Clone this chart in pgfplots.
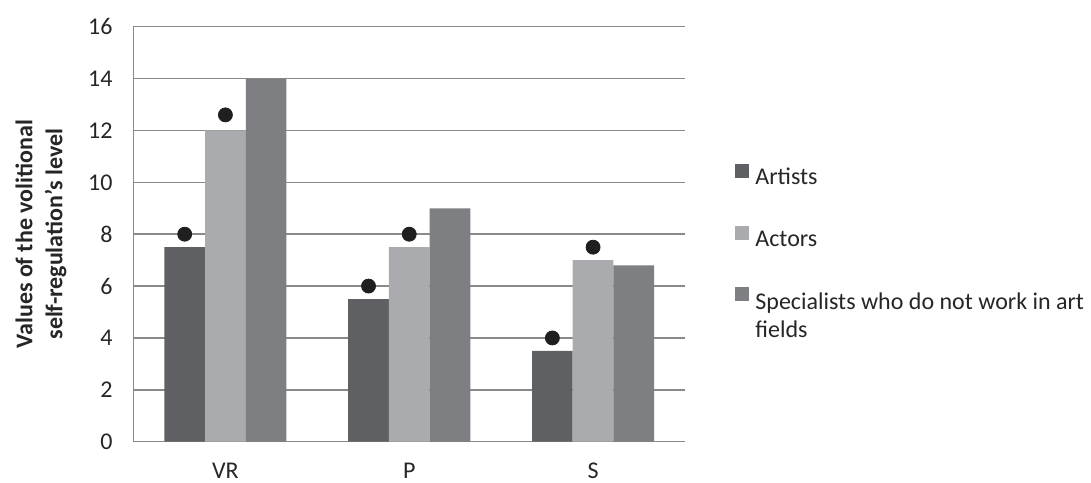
\documentclass[border=0pt]{standalone}
\usepackage{pgfplots}
\pgfplotsset{compat=1.18}
\usepackage{fontspec}
\setmainfont{Carlito}
\definecolor{cArt}{HTML}{5F6064}
\definecolor{cAct}{HTML}{A9ABAE}
\definecolor{cSpe}{HTML}{7E7F83}
\definecolor{cGrid}{HTML}{8A8A8A}
\definecolor{cTxt}{HTML}{262626}
\begin{document}
\begin{tikzpicture}[font=\fontsize{12}{14}\selectfont, text=cTxt]
\begin{axis}[
  scale only axis,
  width=275.75pt, height=207.5pt,
  xmin=-0.5, xmax=2.5, ymin=0, ymax=16,
  xtick={0,1,2}, xticklabels={VR,P,S},
  ytick={0,2,...,16},
  ymajorgrids, major grid style={cGrid, line width=0.75pt},
  axis x line*=bottom, axis y line*=left,
  axis line style={cGrid, line width=0.75pt, -},
  major tick length=0pt,
  /pgf/number format/assume math mode=true,
  yticklabel style={xshift=-7pt},
  xticklabel style={yshift=-7pt},
  ylabel={Values of the volitional\\self-regulation's level},
  ylabel style={font=\fontsize{12}{15}\selectfont\bfseries, align=center,
    at={(axis description cs:-0.109,0.5)}, anchor=south},
  legend cell align=left,
  legend style={draw=none, fill=none, inner sep=0pt,
    at={(axis description cs:1.0907,0.67)}, anchor=north west,
    row sep=19pt,
    /tikz/every even column/.append style={column sep=0pt},
    nodes={inner xsep=3pt, inner ysep=0pt}},
  legend image code/.code={\fill (0pt,0pt) rectangle (7pt,7pt);},
]
\addplot[ybar, bar width=0.2215, bar shift=-0.2215, fill=cArt, draw=none]
  coordinates {(0,7.5) (1,5.5) (2,3.5)};
\addlegendentry{Artists}
\addplot[ybar, bar width=0.2215, bar shift=0, fill=cAct, draw=none]
  coordinates {(0,12) (1,7.5) (2,7)};
\addlegendentry{Actors}
\addplot[ybar, bar width=0.2215, bar shift=0.2215, fill=cSpe, draw=none]
  coordinates {(0,14) (1,9) (2,6.8)};
\addlegendentry{\begin{tabular}[t]{@{}l@{}}Specialists who do not work in art\\fields\end{tabular}}
\addplot[only marks, mark=*, mark size=3.5pt, color=black!88, forget plot]
  coordinates {(-0.2215,8) (0.7785,6) (1.7785,4)};
\addplot[only marks, mark=*, mark size=3.5pt, color=black!88, forget plot]
  coordinates {(0,12.6) (1,8) (2,7.5)};
\end{axis}
\pgfresetboundingbox
\path[use as bounding box] (-66.75pt,-20.15pt) rectangle (478.75pt,220.85pt);
\end{tikzpicture}
\end{document}
